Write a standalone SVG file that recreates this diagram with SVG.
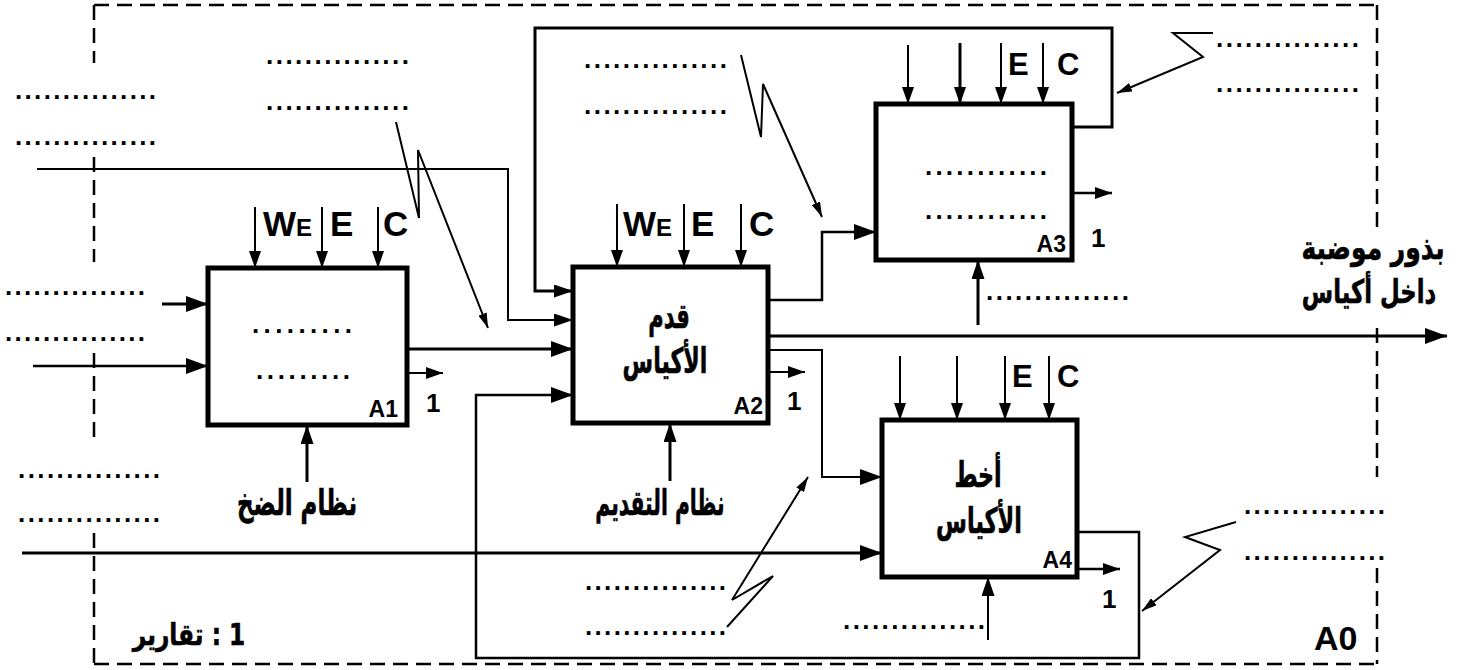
<svg xmlns="http://www.w3.org/2000/svg" width="1464" height="670" viewBox="0 0 1464 670">
<style>
.frame{fill:none;stroke:#000;stroke-width:2.5;stroke-dasharray:15 8}
.box{fill:#fff;stroke:#000;stroke-width:5}
.ln{fill:none;stroke:#000;stroke-linejoin:miter}
.w2{stroke-width:2}
.w25{stroke-width:2.5}
.w3{stroke-width:3}
.dots{font-family:"Liberation Sans",Arial,sans-serif;font-weight:bold;font-size:26px;fill:#000}
.lab{font-family:"Liberation Sans",Arial,sans-serif;font-weight:bold;fill:#000}
.ar{font-family:"DejaVu Sans",sans-serif;font-weight:bold;fill:#000;stroke:#000;stroke-width:0.5;text-anchor:middle}
</style>
<defs>
<marker id="big" markerUnits="userSpaceOnUse" markerWidth="22" markerHeight="16" refX="22" refY="8" orient="auto"><path d="M0,0 L22,8 L0,16 z" fill="#000"/></marker>
<marker id="med" markerUnits="userSpaceOnUse" markerWidth="19" markerHeight="13" refX="19" refY="6.5" orient="auto"><path d="M0,0 L19,6.5 L0,13 z" fill="#000"/></marker>
<marker id="sm" markerUnits="userSpaceOnUse" markerWidth="17" markerHeight="12" refX="17" refY="6" orient="auto"><path d="M0,0 L17,6 L0,12 z" fill="#000"/></marker>
<marker id="zz" markerUnits="userSpaceOnUse" markerWidth="15" markerHeight="9" refX="15" refY="4.5" orient="auto"><path d="M0,0 L15,4.5 L0,9 z" fill="#000"/></marker>
</defs>
<rect width="1464" height="670" fill="#fff"/>
<path class="frame" d="M94,5 H1377 M94,664 H1377 M94,5 V63 M94,157 V262 M94,353 V438 M94,533 V664 M1377,5 V230 M1377,328 V477 M1377,568 V664"/>

<g id="A1"><rect class="box" x="208" y="268" width="199" height="157"/>
<text class="dots" x="252" y="333" textLength="100">.........</text>
<text class="dots" x="256" y="379" textLength="94">.........</text>
<text class="lab" x="398" y="417" font-size="23" text-anchor="end">A1</text></g>

<g id="A2"><rect class="box" x="573" y="267" width="195" height="156"/>
<text class="ar" font-size="27" transform="translate(669,328) scale(0.78,1.3)">قدم</text>
<text class="ar" font-size="27" transform="translate(665,373) scale(0.82,1.3)">الأكياس</text>
<text class="lab" x="763" y="414" font-size="23" text-anchor="end">A2</text></g>

<g id="A3"><rect class="box" x="876" y="104" width="196" height="156"/>
<text class="dots" x="925" y="175" textLength="122">............</text>
<text class="dots" x="925" y="219" textLength="122">............</text>
<text class="lab" x="1066" y="252" font-size="23" text-anchor="end">A3</text></g>

<g id="A4"><rect class="box" x="882" y="420" width="195" height="157"/>
<text class="ar" font-size="27" transform="translate(978,487) scale(0.82,1.3)">أخط</text>
<text class="ar" font-size="27" transform="translate(979,533) scale(0.83,1.3)">الأكياس</text>
<text class="lab" x="1072" y="568" font-size="23" text-anchor="end">A4</text></g>

<g id="connectors">
<path class="ln w3" d="M162,304 H208" marker-end="url(#big)"/>
<path class="ln w25" d="M33,366 H208" marker-end="url(#big)"/>
<path class="ln w3" d="M407,349 H573" marker-end="url(#big)"/>
<path class="ln w2" d="M407,373 H443" marker-end="url(#sm)"/>
<path class="ln w2" d="M37,169 H508 V320 H573" marker-end="url(#med)"/>
<path class="ln w3" d="M1072,127 H1112 V28 H535 V291 H573" marker-end="url(#med)"/>
<path class="ln w25" d="M1077,532 H1139 V658 H476 V395 H573" marker-end="url(#big)"/>
<path class="ln w25" d="M768,300 H822 V232 H876" marker-end="url(#big)"/>
<path class="ln w3" d="M768,336 H1447" marker-end="url(#big)"/>
<path class="ln w2" d="M768,350 H822 V477 H882" marker-end="url(#big)"/>
<path class="ln w2" d="M768,372 H805" marker-end="url(#sm)"/>
<path class="ln w3" d="M22,553 H882" marker-end="url(#big)"/>
<path class="ln w25" d="M1072,193 H1112" marker-end="url(#sm)"/>
<path class="ln w25" d="M1077,569 H1120" marker-end="url(#sm)"/>
<path class="ln w3" d="M307,482 V425" marker-end="url(#med)"/>
<path class="ln w3" d="M670,481 V423" marker-end="url(#med)"/>
<path class="ln w3" d="M978,325 V260" marker-end="url(#med)"/>
<path class="ln w2" d="M988,640 V577" marker-end="url(#med)"/>
<path class="ln w2" d="M255,207 V268" marker-end="url(#sm)"/>
<path class="ln w2" d="M322,207 V268" marker-end="url(#sm)"/>
<path class="ln w2" d="M378,207 V268" marker-end="url(#sm)"/>
<path class="ln w2" d="M617,204 V267" marker-end="url(#sm)"/>
<path class="ln w2" d="M684,204 V267" marker-end="url(#sm)"/>
<path class="ln w2" d="M741,204 V267" marker-end="url(#sm)"/>
<path class="ln w2" d="M908,45 V104" marker-end="url(#sm)"/>
<path class="ln w3" d="M960,43 V104" marker-end="url(#sm)"/>
<path class="ln w2" d="M1001,43 V104" marker-end="url(#sm)"/>
<path class="ln w2" d="M1043,43 V104" marker-end="url(#sm)"/>
<path class="ln w2" d="M900,356 V420" marker-end="url(#sm)"/>
<path class="ln w2" d="M957,356 V420" marker-end="url(#sm)"/>
<path class="ln w2" d="M1005,356 V420" marker-end="url(#sm)"/>
<path class="ln w2" d="M1049,356 V420" marker-end="url(#sm)"/>
<path class="ln w2" d="M396,122 L419,218 L418,150 L488,328" marker-end="url(#zz)"/>
<path class="ln w2" d="M741,55 L761,137 L763,84 L822,217" marker-end="url(#zz)"/>
<path class="ln w2" d="M1213,33 L1173,33 L1203,57 L1117,93" marker-end="url(#zz)"/>
<path class="ln w2" d="M727,627 L773,576 L732,600 L808,477" marker-end="url(#zz)"/>
<path class="ln w2" d="M1236,522 L1185,537 L1220,550 L1142,611" marker-end="url(#zz)"/>
</g>

<g id="labels">
<text class="lab" x="263" y="236" font-size="35">W<tspan font-size="24">E</tspan></text>
<text class="lab" x="330" y="236" font-size="35">E</text>
<text class="lab" x="383" y="236" font-size="35">C</text>
<text class="lab" x="623" y="236" font-size="35">W<tspan font-size="24">E</tspan></text>
<text class="lab" x="691" y="236" font-size="35">E</text>
<text class="lab" x="749" y="236" font-size="35">C</text>
<text class="lab" x="1008" y="75" font-size="31">E</text>
<text class="lab" x="1057" y="75" font-size="31">C</text>
<text class="lab" x="1012" y="387" font-size="31">E</text>
<text class="lab" x="1057" y="387" font-size="31">C</text>
<text class="lab" x="426" y="412" font-size="26">1</text>
<text class="lab" x="787" y="410" font-size="26">1</text>
<text class="lab" x="1091" y="247" font-size="26">1</text>
<text class="lab" x="1102" y="608" font-size="26">1</text>
<text class="lab" x="1314" y="650" font-size="34">A0</text>
<text class="ar" font-size="27" transform="translate(297,515) scale(0.85,1.3)">نظام الضخ</text>
<text class="ar" font-size="27" transform="translate(660,515) scale(0.75,1.3)">نظام التقديم</text>
<text class="ar" font-size="25" transform="translate(1373,259) scale(1.0,1.3)">بذور موضبة</text>
<text class="ar" font-size="25" transform="translate(1369,303) scale(0.91,1.3)">داخل أكياس</text>
<text class="ar" font-size="25" direction="rtl" style="direction:rtl;unicode-bidi:embed" transform="translate(189,645) scale(0.93,1.2)">1 : تقارير</text>
</g>

<g id="notes">
<text class="dots" x="15" y="99" textLength="141">...............</text>
<text class="dots" x="15" y="145" textLength="141">...............</text>
<text class="dots" x="266" y="64" textLength="143">...............</text>
<text class="dots" x="266" y="110" textLength="143">...............</text>
<text class="dots" x="5" y="295" textLength="140">...............</text>
<text class="dots" x="5" y="341" textLength="140">...............</text>
<text class="dots" x="18" y="478" textLength="142">...............</text>
<text class="dots" x="18" y="522" textLength="142">...............</text>
<text class="dots" x="584" y="68" textLength="143">...............</text>
<text class="dots" x="584" y="114" textLength="143">...............</text>
<text class="dots" x="1216" y="47" textLength="143">...............</text>
<text class="dots" x="1216" y="92" textLength="143">...............</text>
<text class="dots" x="986" y="300" textLength="143">...............</text>
<text class="dots" x="585" y="590" textLength="141">...............</text>
<text class="dots" x="585" y="635" textLength="141">...............</text>
<text class="dots" x="843" y="629" textLength="142">...............</text>
<text class="dots" x="1244" y="514" textLength="141">...............</text>
<text class="dots" x="1244" y="560" textLength="141">...............</text>
</g>
</svg>
